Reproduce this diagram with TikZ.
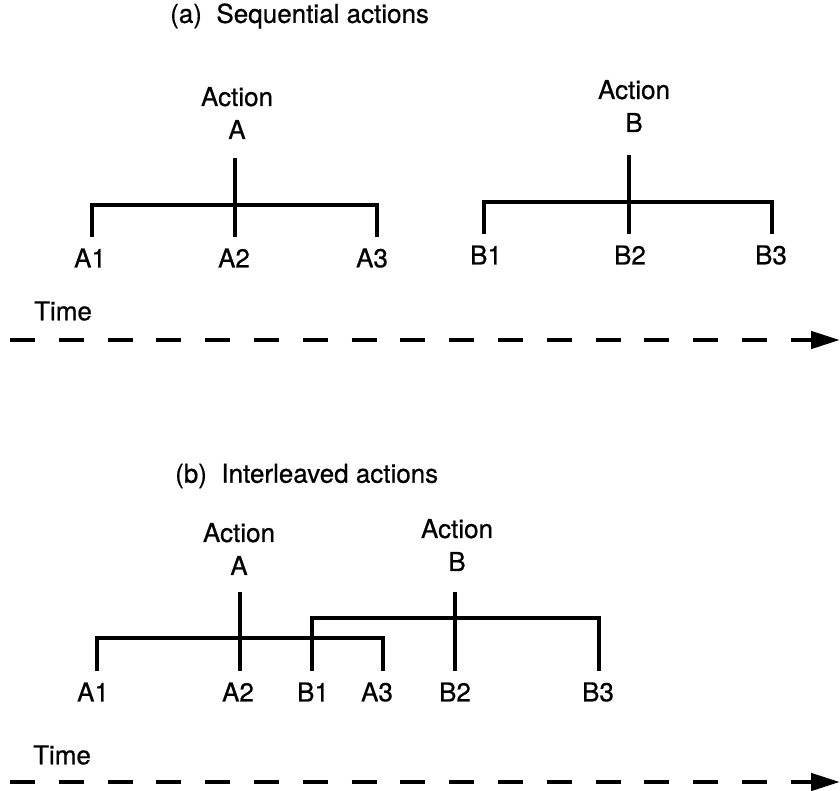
\documentclass[tikz,border=0pt]{standalone}
\usepackage{fontspec}
\setmainfont{TeX Gyre Heros}[FakeBold=0.6]
\usetikzlibrary{arrows.meta}
\begin{document}
\begin{tikzpicture}[x=1pt,y=-1pt,
  txt/.style={inner sep=0pt,font=\fontsize{26}{33}\selectfont},
  act/.style={txt,align=center},
  tree/.style={line width=4pt,line cap=butt,line join=miter},
  timeline/.style={line width=4.5pt,dash pattern=on 25pt off 23.8pt,
    -{Triangle[length=29pt,width=17pt]}}]
\useasboundingbox (0,0) rectangle (840,790);

% ---------- (a) sequential actions ----------
\node[txt,anchor=west] (ta) at (170,16) {(a)\ \ Sequential actions};

\node[act] (actA) at (237,113) {Action\\A};
\node[act] (actB) at (634,106) {Action\\B};

% tree of action A
\coordinate (aTop) at (235,158);
\coordinate (aJ)   at (235,205);
\coordinate (aL)   at (92,237);
\coordinate (aM)   at (235,237);
\coordinate (aR)   at (377,237);
\draw[tree] (aL) |- (aJ) -| (aR);
\draw[tree] (aTop) -- (aM);
\node[txt] (a1) at (90,258) {A1};
\node[txt] (a2) at (234,258) {A2};
\node[txt] (a3) at (372,258) {A3};

% tree of action B
\coordinate (bTop) at (629,155);
\coordinate (bJ)   at (629,202);
\coordinate (bL)   at (484,234);
\coordinate (bM)   at (629,234);
\coordinate (bR)   at (772,234);
\draw[tree] (bL) |- (bJ) -| (bR);
\draw[tree] (bTop) -- (bM);
\node[txt] (b1) at (486,255) {B1};
\node[txt] (b2) at (630,255) {B2};
\node[txt] (b3) at (771,255) {B3};

% time axis
\node[txt] (timeA) at (63,311) {Time};
\coordinate (ta0) at (10,340);
\coordinate (ta1) at (840,340);
\draw[timeline] (ta0) -- (ta1);

% ---------- (b) interleaved actions ----------
\node[txt,anchor=west] (tb) at (175,476) {(b)\ \ Interleaved actions};

\node[act] (actA2) at (239,549) {Action\\A};
\node[act] (actB2) at (457,545) {Action\\B};

% tree of action A
\coordinate (cTop) at (240,592);
\coordinate (cJ)   at (240,638);
\coordinate (cL)   at (97,671);
\coordinate (cM)   at (240,671);
\coordinate (cR)   at (383,671);
\draw[tree] (cL) |- (cJ) -| (cR);
\draw[tree] (cTop) -- (cM);

% tree of action B
\coordinate (dTop) at (455,592);
\coordinate (dJ)   at (455,618);
\coordinate (dL)   at (312,671);
\coordinate (dM)   at (455,671);
\coordinate (dR)   at (599,671);
\draw[tree] (dL) |- (dJ) -| (dR);
\draw[tree] (dTop) -- (dM);

\node[txt] (c1) at (93,692) {A1};
\node[txt] (c2) at (238,692) {A2};
\node[txt] (d1) at (313,692) {B1};
\node[txt] (c3) at (377,692) {A3};
\node[txt] (d2) at (455,692) {B2};
\node[txt] (d3) at (598,692) {B3};

% time axis
\node[txt] (timeB) at (62,755) {Time};
\coordinate (tb0) at (10,782);
\coordinate (tb1) at (840,782);
\draw[timeline] (tb0) -- (tb1);
\end{tikzpicture}
\end{document}
